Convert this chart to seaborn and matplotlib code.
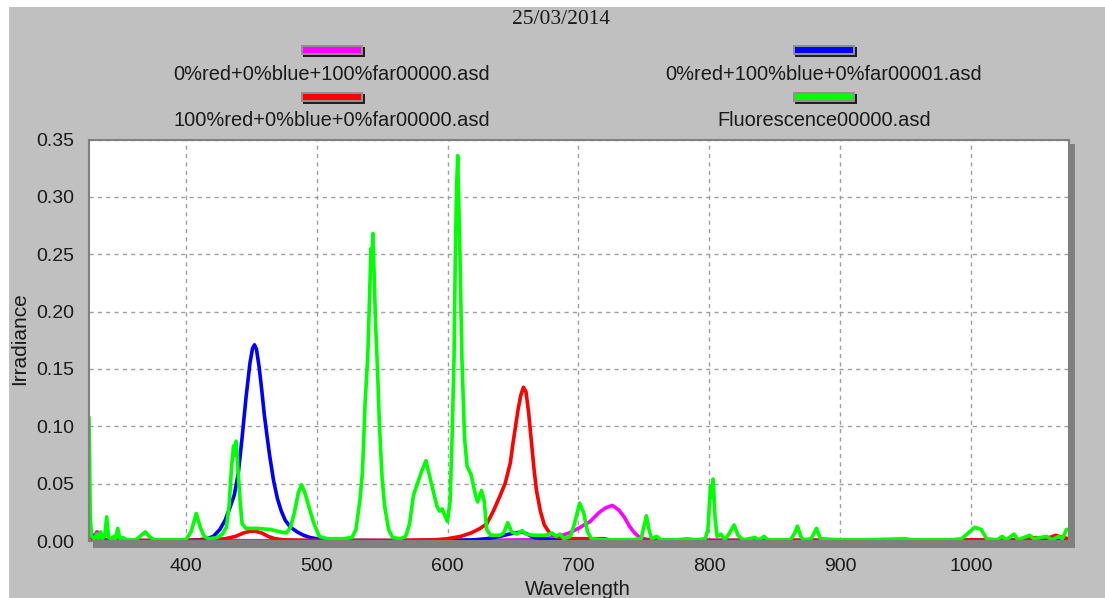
import numpy as np
import pandas as pd
import matplotlib
matplotlib.use("Agg")
import matplotlib.pyplot as plt
from matplotlib.patches import Rectangle
from matplotlib.ticker import MultipleLocator, FormatStrFormatter
import seaborn as sns

# ---- chart data -----------------------------------------------------------
title = "25/03/2014"
series_names = [
    "0%red+0%blue+100%far00000.asd",
    "0%red+100%blue+0%far00001.asd",
    "100%red+0%blue+0%far00000.asd",
    "Fluorescence00000.asd",
]
series_colors = ["#ff00ff", "#0000ff", "#ff0000", "#00ff00"]

far_nm = [326, 330, 332, 334, 336, 340, 360, 600, 660, 675, 685, 693, 700, 709,
          716, 721, 726, 731, 735, 739, 743, 747, 752, 760, 800, 1075]
far_val = [0.003, 0.004, 0.008, 0.007, 0.001, 0.0005, 0.0003, 0.0003, 0.001, 0.002,
           0.004, 0.007, 0.011, 0.017, 0.025, 0.029, 0.031, 0.027, 0.021, 0.013,
           0.007, 0.003, 0.0015, 0.001, 0.0005, 0.0005]

blue_nm = [326, 328, 331, 335, 345, 360, 380, 400, 410, 416, 421, 426, 430, 434,
           437, 440, 443, 446, 449, 451, 452.5, 454, 456, 458, 460, 462, 464, 467,
           470, 473, 476, 480, 485, 490, 495, 500, 510, 520, 560, 600, 620, 630,
           640, 647, 652, 657, 661, 666, 672, 680, 700, 800, 1000, 1075]
blue_val = [0.012, 0.006, 0.002, 0.001, 0.0005, 0.0003, 0.0003, 0.0005, 0.001, 0.002,
            0.004, 0.010, 0.018, 0.030, 0.040, 0.058, 0.090, 0.125, 0.155, 0.168,
            0.171, 0.167, 0.152, 0.132, 0.110, 0.092, 0.075, 0.053, 0.037, 0.026,
            0.018, 0.012, 0.008, 0.005, 0.003, 0.002, 0.001, 0.0005, 0.0003, 0.0005,
            0.001, 0.002, 0.004, 0.006, 0.007, 0.008, 0.006, 0.003, 0.002, 0.001,
            0.0005, 0.0003, 0.0003, 0.0005]

red_nm = [326, 330, 340, 400, 420, 430, 438, 444, 449, 453, 458, 463, 468, 475,
          500, 560, 590, 600, 610, 618, 625, 630, 635, 640, 644, 648, 650, 652,
          654, 656, 658, 660, 662, 664, 666, 668, 671, 674, 678, 683, 690, 700,
          720, 725, 800, 1000, 1040, 1050, 1055, 1065, 1070, 1075]
red_val = [0.004, 0.001, 0.0005, 0.0005, 0.001, 0.002, 0.004, 0.007, 0.0085, 0.0085,
           0.007, 0.004, 0.002, 0.001, 0.0005, 0.0005, 0.001, 0.002, 0.004, 0.007,
           0.011, 0.015, 0.026, 0.039, 0.050, 0.068, 0.085, 0.100, 0.115, 0.127,
           0.134, 0.130, 0.112, 0.088, 0.064, 0.044, 0.026, 0.014, 0.007, 0.004,
           0.002, 0.002, 0.002, 0.0005, 0.0005, 0.001, 0.001, 0.003, 0.001, 0.005,
           0.003, 0.002]

fluo_nm = [326, 327, 328, 330, 332, 333, 335, 336, 338, 339.5, 341, 343, 345, 346,
           348, 349.5, 352, 355, 362, 366, 369, 372, 376, 385, 400, 404, 408, 411,
           414, 418, 424, 428, 431, 433, 435, 436.5, 437.5, 438.5, 440, 441.5, 443,
           446, 455, 465, 472, 477, 480, 483, 486, 488.5, 491, 494, 498, 502, 508,
           520, 527, 530, 533, 535, 537, 539, 540.5, 541.5, 542.2, 543, 544, 545,
           546.5, 548, 550, 552, 555, 558, 564, 568, 571, 574, 577, 580, 583.5, 586,
           589, 592, 594, 596, 598, 600, 602, 603.5, 605, 606, 607, 607.8, 608.5,
           609.5, 611, 613, 615, 618, 621, 623, 626, 628, 630, 633, 640, 643, 646,
           649, 653, 657, 660, 665, 675, 680, 683, 686, 689, 694, 697, 701, 704,
           707, 710, 720, 740, 748, 750, 752, 754, 756, 760, 763, 775, 783, 790,
           797, 799, 801, 802, 803, 804.5, 806, 809, 812, 815, 819, 822, 826, 835,
           838, 842, 845, 862, 865, 867.5, 870, 872, 878, 882, 885, 900, 920, 950,
           955, 985, 993, 998, 1003, 1008, 1012, 1020, 1024, 1027, 1033, 1036, 1045,
           1048, 1058, 1062, 1067, 1070, 1073, 1075]
fluo_val = [0.108, 0.020, 0.004, 0.002, 0.006, 0.002, 0.008, 0.002, 0.004, 0.021,
            0.003, 0.002, 0.004, 0.001, 0.011, 0.002, 0.003, 0.001, 0.001, 0.005,
            0.008, 0.004, 0.001, 0.001, 0.001, 0.008, 0.024, 0.012, 0.004, 0.002,
            0.003, 0.006, 0.012, 0.030, 0.065, 0.083, 0.075, 0.087, 0.060, 0.035,
            0.015, 0.011, 0.011, 0.010, 0.008, 0.007, 0.012, 0.025, 0.042, 0.049,
            0.042, 0.030, 0.015, 0.004, 0.002, 0.002, 0.003, 0.010, 0.035, 0.060,
            0.120, 0.160, 0.215, 0.255, 0.240, 0.268, 0.230, 0.190, 0.150, 0.100,
            0.055, 0.030, 0.010, 0.003, 0.002, 0.004, 0.015, 0.040, 0.050, 0.060,
            0.070, 0.058, 0.044, 0.030, 0.026, 0.028, 0.022, 0.017, 0.035, 0.090,
            0.160, 0.250, 0.310, 0.336, 0.300, 0.250, 0.160, 0.090, 0.065, 0.058,
            0.042, 0.034, 0.044, 0.035, 0.010, 0.005, 0.005, 0.007, 0.016, 0.008,
            0.006, 0.009, 0.006, 0.005, 0.005, 0.007, 0.004, 0.006, 0.002, 0.004,
            0.015, 0.033, 0.025, 0.008, 0.002, 0.001, 0.001, 0.002, 0.012, 0.022,
            0.010, 0.002, 0.004, 0.001, 0.001, 0.002, 0.001, 0.002, 0.010, 0.048,
            0.038, 0.054, 0.020, 0.004, 0.006, 0.001, 0.006, 0.014, 0.005, 0.001,
            0.003, 0.001, 0.004, 0.001, 0.001, 0.006, 0.013, 0.004, 0.001, 0.002,
            0.011, 0.002, 0.001, 0.001, 0.002, 0.001, 0.001, 0.002, 0.007, 0.012,
            0.010, 0.002, 0.001, 0.004, 0.001, 0.006, 0.001, 0.005, 0.002, 0.004,
            0.001, 0.004, 0.002, 0.010, 0.010]

x_range = (326, 1075)
y_range = (0.0, 0.35)

# ---- assemble long-form table ----------------------------------------------
frames = []
for name, nm, val in zip(series_names,
                         [far_nm, blue_nm, red_nm, fluo_nm],
                         [far_val, blue_val, red_val, fluo_val]):
    frames.append(pd.DataFrame({"Wavelength": nm, "Irradiance": val, "series": name}))
df = pd.concat(frames, ignore_index=True)

# ---- figure ----------------------------------------------------------------
W, H = 1105, 598
DPI = 100
sns.set_style("white")
plt.rcParams["font.family"] = ["Liberation Sans", "DejaVu Sans"]

fig = plt.figure(figsize=(W / DPI, H / DPI), dpi=DPI, facecolor="white")

def fx(px):
    return px / W

def fy(py):
    return 1 - py / H

GRAY_BG = "#c0c0c0"
FRAME = "#808080"

# window background (narrow white margin on top and left)
fig.add_artist(Rectangle((fx(9), 0), 1 - fx(9), fy(7), transform=fig.transFigure,
                         facecolor=GRAY_BG, edgecolor="none", zorder=-5))

ax_l, ax_r, ax_t, ax_b = 89, 1069, 139.5, 541
ax = fig.add_axes([fx(ax_l), fy(ax_b), fx(ax_r - ax_l), (ax_b - ax_t) / H])
ax.set_facecolor("white")

sns.lineplot(data=df, x="Wavelength", y="Irradiance", hue="series",
             hue_order=series_names, palette=series_colors, estimator=None,
             legend=False, linewidth=2.6, ax=ax)

ax.set_xlim(*x_range)
ax.set_ylim(*y_range)

ax.xaxis.set_major_locator(MultipleLocator(100))
ax.xaxis.set_minor_locator(MultipleLocator(20))
ax.yaxis.set_major_locator(MultipleLocator(0.05))
ax.yaxis.set_minor_locator(MultipleLocator(0.01))
ax.yaxis.set_major_formatter(FormatStrFormatter("%.2f"))

ax.set_axisbelow(True)
ax.grid(which="major", color="#a0a0a0", linestyle=(0, (3, 3)), linewidth=1.0)

ax.tick_params(axis="y", which="major", direction="out", length=7.5, width=1,
               color=FRAME, labelsize=14, labelcolor="#1a1a1a", pad=3)
ax.tick_params(axis="y", which="minor", direction="in", length=5, width=1,
               color=FRAME)
ax.tick_params(axis="x", which="major", direction="out", length=10, width=1,
               color=FRAME, labelsize=14, labelcolor="#1a1a1a", pad=2)
ax.tick_params(axis="x", which="minor", direction="in", length=7, width=1,
               color="#a0a0a0")

for side in ["left", "top", "right", "bottom"]:
    ax.spines[side].set_visible(True)
    ax.spines[side].set_color(FRAME)
    ax.spines[side].set_linewidth(1.5)

# raised-panel shadow along the bottom and right edges of the plot
fig.add_artist(Rectangle((fx(93), fy(547.5)), fx(1075 - 93), (547.5 - ax_b) / H,
                         transform=fig.transFigure, facecolor=FRAME,
                         edgecolor="none", zorder=3))
fig.add_artist(Rectangle((fx(ax_r), fy(547.5)), fx(1075 - ax_r), (547.5 - 144) / H,
                         transform=fig.transFigure, facecolor=FRAME,
                         edgecolor="none", zorder=3))

ax.set_xlabel("Wavelength", fontsize=14.5, color="#1a1a1a")
ax.xaxis.set_label_coords(0.499, -0.097)
ax.set_ylabel("Irradiance", fontsize=15, color="#1a1a1a")
ax.yaxis.set_label_coords(-0.0704, 0.503)
ax.yaxis.label.set_va("center")

# title
fig.text(fx(561), fy(19), title, family=["Liberation Serif", "DejaVu Serif"],
         fontsize=15.5, ha="center", va="center", color="#1a1a1a")

# legend: swatch above each label, two columns
legend_slots = [(332, 50, 74), (824, 50, 74), (332, 97, 121), (824, 97, 121)]
sw_w, sw_h = 62, 10
for name, color, (cx, sy, ly) in zip(series_names, series_colors, legend_slots):
    x0, y0 = cx - sw_w / 2, sy - sw_h / 2
    # dark drop shadow
    fig.add_artist(Rectangle((fx(x0 + 2), fy(y0 + sw_h + 2)), fx(sw_w), sw_h / H,
                             transform=fig.transFigure, facecolor="#202020",
                             edgecolor="none", zorder=4))
    # grey rim
    fig.add_artist(Rectangle((fx(x0), fy(y0 + sw_h)), fx(sw_w), sw_h / H,
                             transform=fig.transFigure, facecolor="#909090",
                             edgecolor="none", zorder=5))
    # colour fill
    fig.add_artist(Rectangle((fx(x0 + 2), fy(y0 + sw_h - 2)), fx(sw_w - 4),
                             (sw_h - 4) / H, transform=fig.transFigure,
                             facecolor=color, edgecolor="none", zorder=6))
    fig.text(fx(cx), fy(ly), name, fontsize=14.4, ha="center", va="center",
             color="#1a1a1a")

fig.savefig("out.png", dpi=DPI, facecolor=fig.get_facecolor())
